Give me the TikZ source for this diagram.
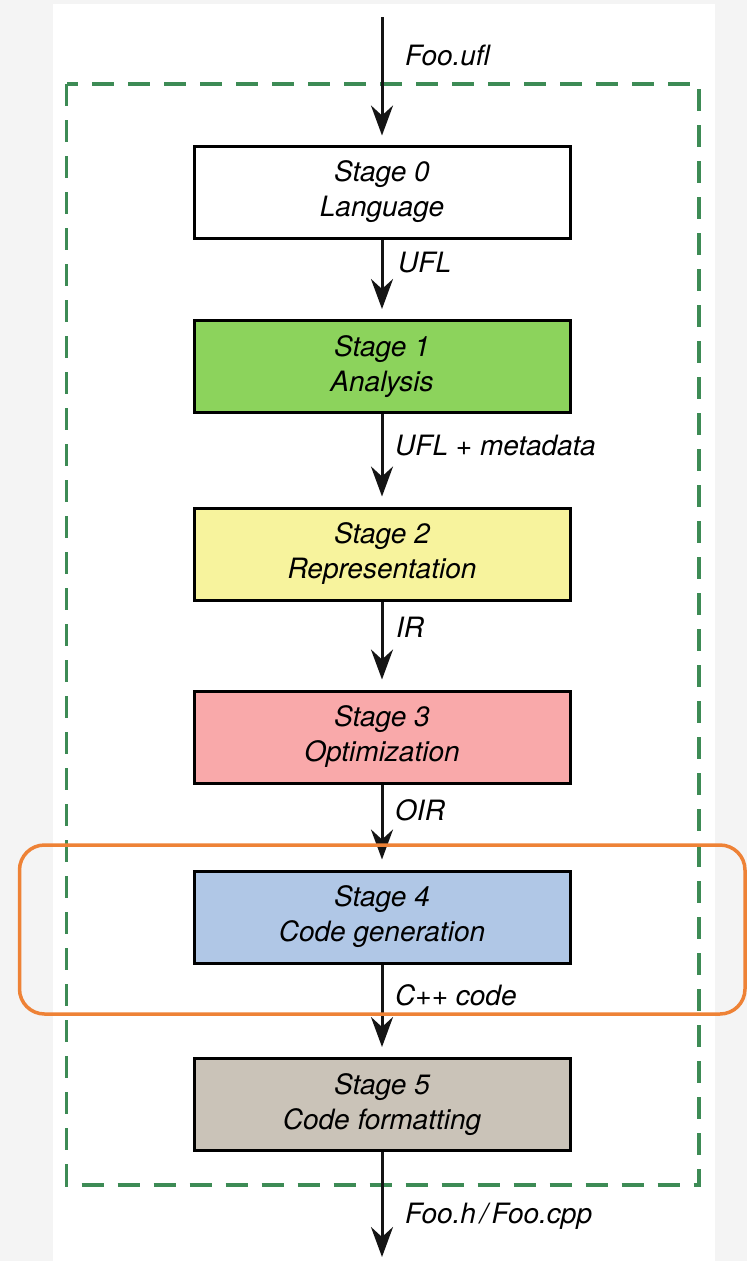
\documentclass[tikz,border=0pt]{standalone}
\usepackage{fontspec}
\setmainfont{TeX Gyre Heros}
\usetikzlibrary{arrows.meta}

\definecolor{pagegray}{HTML}{F4F4F4}
\definecolor{frameGreen}{HTML}{3D8B55}
\definecolor{focusOrange}{HTML}{EE8236}
\definecolor{fillLang}{HTML}{FFFFFF}
\definecolor{fillAnalysis}{HTML}{8CD35C}
\definecolor{fillRepr}{HTML}{F7F39D}
\definecolor{fillOpt}{HTML}{F9A9AA}
\definecolor{fillCodegen}{HTML}{B0C7E6}
\definecolor{fillFormat}{HTML}{CAC3B8}

\begin{document}
\begin{tikzpicture}[x=1pt, y=-1pt,
  stagebox/.style={draw=black, line width=3pt, minimum width=376pt,
    minimum height=92pt, inner sep=0pt, align=center,
    font=\fontsize{28}{35}\selectfont\itshape},
  flow/.style={line width=3pt, draw=black!92,
    -{Stealth[length=30pt, width=22pt, inset=10pt]}},
  flowlabel/.style={anchor=base west, inner sep=0pt,
    font=\fontsize{28}{34}\selectfont\itshape},
  frame/.style={draw=frameGreen, line width=3.5pt, dash pattern=on 22pt off 14pt},
  focus/.style={draw=focusOrange, line width=3.5pt, rounded corners=25pt}]

  % page and white panel
  \useasboundingbox (0,0) rectangle (747,1261);
  \fill[pagegray] (0,0) rectangle (747,1261);
  \fill[white] (53,4) rectangle (715,1261);

  % the compiler boundary
  \draw[frame] (66.5,84) rectangle (699,1185);

  % stages
  \node[stagebox, fill=fillLang]    (b0) at (382,192)    {Stage 0\\Language};
  \node[stagebox, fill=fillAnalysis](b1) at (382,366.5)  {Stage 1\\Analysis};
  \node[stagebox, fill=fillRepr]    (b2) at (382,554)    {Stage 2\\Representation};
  \node[stagebox, fill=fillOpt]     (b3) at (382,737)    {Stage 3\\Optimization};
  \node[stagebox, fill=fillCodegen] (b4) at (382,917)    {Stage 4\\Code generation};
  \node[stagebox, fill=fillFormat]  (b5) at (382,1104.5) {Stage 5\\Code formatting};

  % input and output ends
  \coordinate (src) at (382,17);
  \coordinate (dst) at (382,1257);

  % data flow
  \draw[flow, shorten >=9pt]  (src) -- (b0.north);
  \draw[flow, shorten >=10pt] (b0.south) -- (b1.north);
  \draw[flow, shorten >=10pt] (b1.south) -- (b2.north);
  \draw[flow, shorten >=10pt] (b2.south) -- (b3.north);
  \draw[flow, shorten >=10pt] (b3.south) -- (b4.north);
  \draw[flow, shorten >=10pt] (b4.south) -- (b5.north);
  \draw[flow] (b5.south) -- (dst);

  % labels on the flow
  \node[flowlabel] (lin)  at (405,65)   {Foo.ufl};
  \node[flowlabel] (l01)  at (398,272)  {UFL};
  \node[flowlabel] (l12)  at (395,455)  {UFL + metadata};
  \node[flowlabel] (l23)  at (396,637)  {IR};
  \node[flowlabel] (l34)  at (395,820)  {OIR};
  \node[flowlabel] (l45)  at (395,1005) {C++ code};
  \node[flowlabel] (lout) at (405,1223) {Foo.h\kern4pt/\kern4pt Foo.cpp};

  % highlighted stage
  \draw[focus] (19.5,845) rectangle (745,1014);
\end{tikzpicture}
\end{document}
